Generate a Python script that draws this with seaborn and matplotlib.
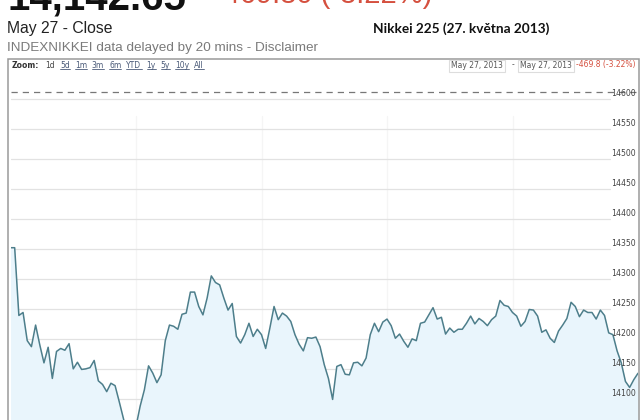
import numpy as np
import seaborn as sns
import matplotlib.pyplot as plt
from matplotlib.patches import Rectangle
from matplotlib.lines import Line2D
from matplotlib.transforms import blended_transform_factory

# Nikkei 225 intraday, 27 May 2013, 2-minute slots (9:00-11:30, 12:30-15:00)
nikkei = [14352, 14352, 14239, 14244, 14197, 14187, 14223, 14190, 14160, 14186,
          14134, 14179, 14184, 14181, 14192, 14150, 14161, 14149, 14150, 14152,
          14164, 14130, 14124, 14112, 14126, 14122, 14095, 14067, 14039, 14020,
          14054, 14088, 14115, 14155, 14143, 14127, 14140, 14197, 14223, 14221,
          14216, 14241, 14243, 14278, 14278, 14254, 14240, 14268, 14305, 14294,
          14290, 14268, 14248, 14259, 14204, 14193, 14207, 14226, 14204, 14216,
          14207, 14184, 14218, 14254, 14232, 14243, 14238, 14229, 14207, 14191,
          14180, 14202, 14201, 14203, 14187, 14157, 14134, 14099, 14154, 14157,
          14141, 14140, 14160, 14161, 14155, 14168, 14207, 14226, 14212, 14228,
          14233, 14222, 14201, 14208, 14196, 14186, 14200, 14197, 14226, 14228,
          14240, 14252, 14233, 14236, 14208, 14218, 14211, 14216, 14216, 14226,
          14238, 14225, 14234, 14229, 14222, 14232, 14238, 14264, 14256, 14254,
          14244, 14238, 14221, 14229, 14249, 14248, 14238, 14211, 14215, 14201,
          14194, 14213, 14223, 14234, 14261, 14254, 14237, 14248, 14244, 14244,
          14233, 14248, 14239, 14210, 14207, 14180, 14160, 14129, 14119, 14132,
          14142.65]
prev_close = 14612.45
y_ticks = [14100, 14150, 14200, 14250, 14300, 14350, 14400, 14450, 14500, 14550, 14600]
hour_slots = [30, 60, 90, 120]  # 10:00, 11:00, 13:00, 14:00

close_text = "14,142.65"
change_text = "-469.80 (-3.22%)"
subtitle = "May 27 - Close"
source_text = "INDEXNIKKEI data delayed by 20 mins - Disclaimer"
title = "Nikkei 225 (27. května 2013)"
zoom_links = ["1d", "5d", "1m", "3m", "6m", "YTD", "1y", "5y", "10y", "All"]
range_from = "May 27, 2013"
range_to = "May 27, 2013"
range_change = "-469.8 (-3.22%)"

RED = "#d5503f"
LINE = "#4d7e8b"
FILL = "#e9f5fc"

sns.set_style("white")
plt.rcParams["font.family"] = ["DejaVu Sans"]

W, H = 640, 420
fig = plt.figure(figsize=(6.4, 4.2), dpi=100)
renderer = fig.canvas.get_renderer()


def fx(x):
    return x / W


def fy(y):
    return 1 - y / H


# header texts (top of the page is cropped in the screenshot)
fig.text(fx(7), fy(10), close_text, fontsize=29, fontweight="bold",
         family="Liberation Sans", color="#111111", va="baseline")
fig.text(fx(214), fy(3), change_text, fontsize=21, family="Liberation Sans",
         color=RED, va="baseline")
fig.text(fx(7), fy(33), subtitle, fontsize=11.3, family="Liberation Sans",
         color="#222222", va="baseline")
fig.text(fx(7), fy(50.5), source_text, fontsize=9.7, family="Liberation Sans",
         color="#7a7a7a", va="baseline")
fig.text(fx(373), fy(33), title, fontsize=9.8, family="Lato",
         fontweight="bold", color="#111111", va="baseline")

# chart frame
fig.add_artist(Rectangle((fx(8), fy(470)), fx(630.5), (470 - 58.5) / H,
                         transform=fig.transFigure, fill=False,
                         edgecolor="#9a9a9a", linewidth=1.1))

# toolbar row
inv = fig.transFigure.inverted()
x = 12
t = fig.text(fx(x), fy(67.5), "Zoom:", fontsize=5.5, fontweight="bold",
             color="#333333", va="baseline")
x = t.get_window_extent(renderer).x1 + 6
for i, lab in enumerate(zoom_links):
    t = fig.text(fx(x), fy(67.5), lab, fontsize=5.5, color="#4a5a78" if i else "#444444",
                 va="baseline")
    bb = t.get_window_extent(renderer)
    if i:
        (x0, _), (x1, _) = inv.transform([(bb.x0, 0), (bb.x1, 0)])
        fig.add_artist(Line2D([x0, x1], [fy(69.3), fy(69.3)], color="#4a5a78",
                              linewidth=0.6, transform=fig.transFigure))
    x = bb.x1 + 5

for lab, x0 in [(range_from, 451), (range_to, 520)]:
    t = fig.text(fx(x0), fy(67.5), lab, fontsize=5.5, color="#555555", va="baseline")
    bb = inv.transform(t.get_window_extent(renderer))
    fig.add_artist(Rectangle((bb[0, 0] - 2 / W, fy(71.5)), bb[1, 0] - bb[0, 0] + 4 / W,
                             11 / H, transform=fig.transFigure, fill=False,
                             edgecolor="#dddddd", linewidth=0.8))
fig.text(fx(512), fy(67.5), "-", fontsize=5.5, color="#555555", va="baseline")
fig.text(fx(576), fy(67.5), range_change, fontsize=5.5, color=RED, va="baseline")

# plot area (its lower part lies below the cropped screenshot)
ax = fig.add_axes([fx(10.5), fy(460), 627.5 / W, (460 - 78) / H])
ylo, yhi = 13998, 14635
ax.set_xlim(0, len(nikkei) - 1)
ax.set_ylim(ylo, yhi)
ax.axis("off")

for s in hour_slots:
    ax.axvline(s, ymax=0.9, color="#f5f5f5", linewidth=0.9, zorder=0)
for v in y_ticks:
    ax.axhline(v, xmin=0, xmax=0.955, color="#e2e2e2", linewidth=0.9, zorder=0)

xs = np.arange(len(nikkei))
ax.fill_between(xs, nikkei, ylo, color=FILL, linewidth=0, zorder=1)
sns.lineplot(x=xs, y=nikkei, ax=ax, color=LINE, linewidth=1.1, zorder=3)

ax.axhline(prev_close, color="#777777", linewidth=0.9, linestyle=(0, (5, 4)), zorder=2)

trans = blended_transform_factory(ax.transAxes, ax.transData)
for v in y_ticks:
    ax.text(0.997, v + 1.5, str(v), transform=trans, ha="right", va="bottom",
            fontsize=5.6, color="#444444", zorder=4)

fig.savefig("out.png", dpi=100)
